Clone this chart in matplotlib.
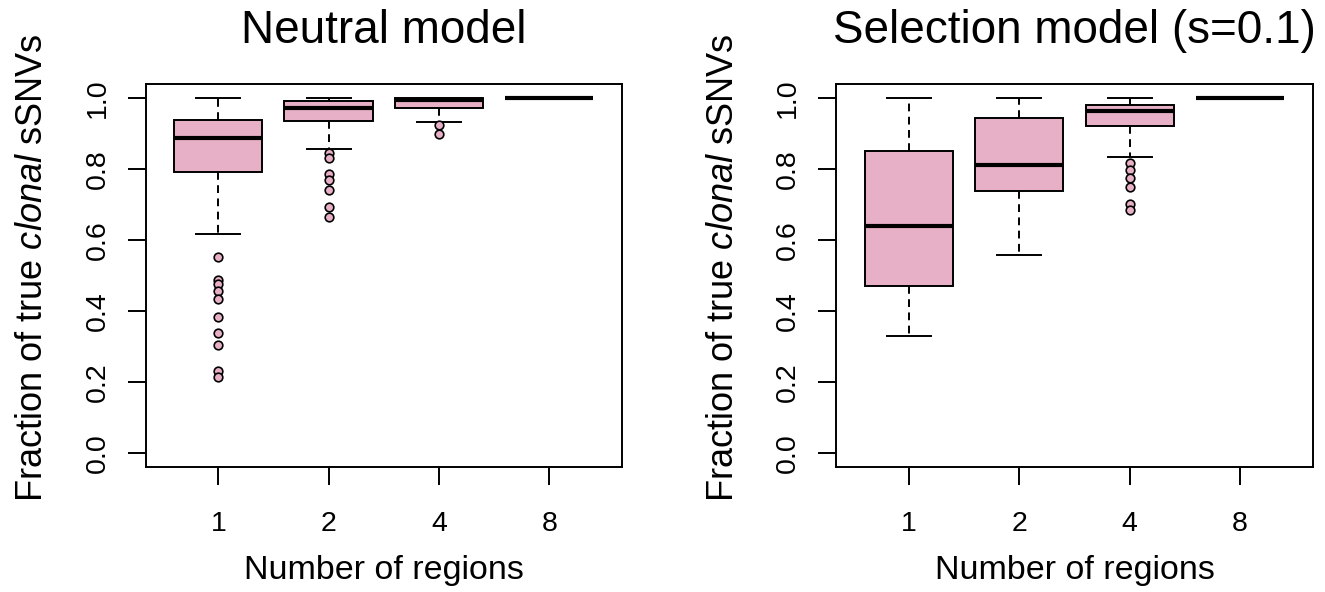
import numpy as np
import matplotlib
matplotlib.use('Agg')
import matplotlib.pyplot as plt

plt.rcParams['font.family'] = 'Liberation Sans'
plt.rcParams['mathtext.fontset'] = 'custom'
plt.rcParams['mathtext.rm'] = 'Liberation Sans'
plt.rcParams['mathtext.it'] = 'Liberation Sans:italic'

regions = ['1', '2', '4', '8']

# Neutral model: box statistics for each number of sampled regions
neutral_q1 = [0.793, 0.936, 0.972, 1.0]
neutral_med = [0.889, 0.972, 0.995, 1.0]
neutral_q3 = [0.938, 0.991, 1.0, 1.0]
neutral_lo = [0.617, 0.856, 0.934, 1.0]
neutral_hi = [1.0, 1.0, 1.0, 1.0]
neutral_out = [
    [0.553, 0.487, 0.476, 0.455, 0.434, 0.383, 0.338, 0.304, 0.231, 0.214],
    [0.845, 0.830, 0.786, 0.769, 0.742, 0.692, 0.665],
    [0.923, 0.899],
    [],
]

# Selection model (s=0.1)
sel_q1 = [0.470, 0.738, 0.921, 1.0]
sel_med = [0.640, 0.813, 0.964, 1.0]
sel_q3 = [0.850, 0.944, 0.981, 1.0]
sel_lo = [0.330, 0.558, 0.833, 1.0]
sel_hi = [1.0, 1.0, 1.0, 1.0]
sel_out = [[], [], [0.816, 0.797, 0.776, 0.750, 0.703, 0.684], []]

pink = '#E8B0C6'
lw = 1.4


def draw_panel(ax, title, q1, med, q3, lo, hi, outliers):
    stats = []
    for i in range(len(regions)):
        stats.append({'q1': q1[i], 'med': med[i], 'q3': q3[i],
                      'whislo': lo[i], 'whishi': hi[i],
                      'fliers': np.array(outliers[i])})
    pos = np.arange(1, len(regions) + 1)
    ax.bxp(stats, positions=pos, widths=0.8, capwidths=0.4, patch_artist=True,
           boxprops=dict(facecolor=pink, edgecolor='black', linewidth=lw),
           whiskerprops=dict(color='black', linewidth=lw, linestyle=(0, (4, 2.8))),
           capprops=dict(color='black', linewidth=lw),
           medianprops=dict(color='black', linewidth=3.0, solid_capstyle='butt'),
           flierprops=dict(marker='o', markerfacecolor=pink, markeredgecolor='black',
                           markersize=6.2, markeredgewidth=1.2))

    ax.set_xlim(0.34, 4.66)
    ax.set_ylim(-0.04, 1.04)
    ax.set_xticks(pos)
    ax.set_xticklabels(regions)
    ax.set_yticks(np.arange(0, 1.01, 0.2))
    ax.set_yticklabels(['%.1f' % v for v in np.arange(0, 1.01, 0.2)])
    ax.tick_params(axis='both', direction='out', length=13, width=lw, labelsize=20.5)
    ax.tick_params(axis='x', pad=18.5)
    ax.tick_params(axis='y', pad=12, labelrotation=90)
    for lbl in ax.get_yticklabels():
        lbl.set_va('center')
    for sp in ax.spines.values():
        sp.set_linewidth(lw)

    ax.set_title(title, fontsize=33, pad=29.5)
    ax.set_xlabel('Number of regions', fontsize=24.5, labelpad=13)
    ax.set_ylabel('Fraction of true $\\mathit{clonal}$ sSNVs', fontsize=26, labelpad=25)
    ax.yaxis.label.set_y(0.52)


fig = plt.figure(figsize=(13.25, 5.92), dpi=100)
ax1 = fig.add_axes([145.5 / 1325, 125 / 592, 476.5 / 1325, 383 / 592])
ax2 = fig.add_axes([836 / 1325, 125 / 592, 477 / 1325, 383 / 592])

draw_panel(ax1, 'Neutral model', neutral_q1, neutral_med, neutral_q3,
           neutral_lo, neutral_hi, neutral_out)
draw_panel(ax2, 'Selection model (s=0.1)', sel_q1, sel_med, sel_q3,
           sel_lo, sel_hi, sel_out)

fig.savefig('out.png', dpi=100)
